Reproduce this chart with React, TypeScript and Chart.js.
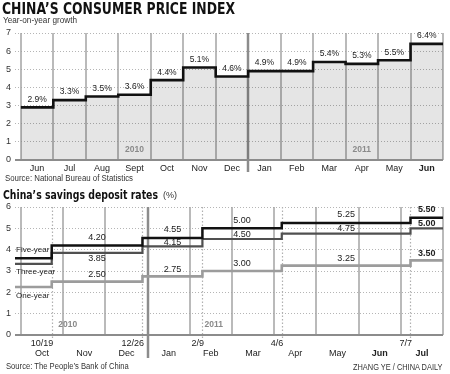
import React, { useEffect, useRef } from "react";
import { Chart, registerables } from "chart.js";
Chart.register(...registerables);

// ---------- CPI data ----------
const cpiMonths = ["Jun", "Jul", "Aug", "Sept", "Oct", "Nov", "Dec", "Jan", "Feb", "Mar", "Apr", "May", "Jun"];
const cpiValues = [2.9, 3.3, 3.5, 3.6, 4.4, 5.1, 4.6, 4.9, 4.9, 5.4, 5.3, 5.5, 6.4];
const cpiYearLabels = ["2010", "2011"];
const cpiYearLabelPos = [3.5, 10.5];
const cpiYearBreak = 7;
const cpiYMax = 7;

// ---------- Deposit rate data ----------
const rateMonths = ["Oct", "Nov", "Dec", "Jan", "Feb", "Mar", "Apr", "May", "Jun", "Jul"];
const rateChangeDates = ["10/19", "12/26", "2/9", "4/6", "7/7"];
const rateChangePos = [0.73, 2.88, 4.3, 6.18, 9.23];
const fiveYearRates = [3.6, 4.2, 4.55, 5.0, 5.25, 5.5];
const threeYearRates = [3.33, 3.85, 4.15, 4.5, 4.75, 5.0];
const oneYearRates = [2.25, 2.5, 2.75, 3.0, 3.25, 3.5];
const rateSeriesNames = ["Five-year", "Three-year", "One-year"];
const rateYearLabels = ["2010", "2011"];
const rateYearLabelPos = [1.11, 4.57];
const rateYearBreak = 3;
const rateYMax = 6;

const FONT = "'Liberation Sans', Arial, sans-serif";
const NARROW = "'Liberation Sans Narrow', 'Liberation Sans', Arial, sans-serif";

let measureCtx: CanvasRenderingContext2D | null = null;
function measure(text: string, font: string) {
  if (!measureCtx) measureCtx = document.createElement("canvas").getContext("2d");
  measureCtx!.font = font;
  return measureCtx!.measureText(text).width;
}

function FitText(props: {
  text: string; left: number; cy: number; size: number; width: number;
  weight?: string; family?: string; color?: string;
}) {
  const { text, left, cy, size, width, weight = "normal", family = FONT, color = "#222" } = props;
  const font = `${weight} ${size}px ${family}`;
  const w = measure(text, font);
  const sx = w > 0 ? width / w : 1;
  const lh = size * 1.2;
  return (
    <div
      style={{
        position: "absolute", left, top: cy - lh / 2 - 0.5, font, lineHeight: `${lh}px`,
        color, whiteSpace: "nowrap", transform: `scaleX(${sx})`, transformOrigin: "left center",
      }}
    >
      {text}
    </div>
  );
}

const CPI_XMIN = -0.18;
const RATE_XMIN = -0.14;

function CpiChart() {
  const ref = useRef<HTMLCanvasElement>(null);
  useEffect(() => {
    const n = cpiMonths.length;
    const data = cpiValues.map((v, i) => ({ x: i, y: v }));
    data.push({ x: n, y: cpiValues[n - 1] });
    const decor = {
      id: "cpiDecor",
      beforeDatasetsDraw(chart: any) {
        const { ctx, chartArea: a, scales } = chart;
        const x = scales.x;
        ctx.save();
        for (let i = 0; i <= n; i++) {
          const px = Math.round(x.getPixelForValue(i));
          const yr = i === cpiYearBreak;
          ctx.strokeStyle = yr ? "#8c8c8c" : "#a3a3a3";
          ctx.lineWidth = yr ? 2.5 : 1.5;
          ctx.beginPath();
          ctx.moveTo(px, a.top);
          ctx.lineTo(px, yr ? a.bottom + 12 : a.bottom);
          ctx.stroke();
        }
        ctx.restore();
      },
      afterDatasetsDraw(chart: any) {
        const { ctx, chartArea: a, scales } = chart;
        const x = scales.x, y = scales.y;
        ctx.save();
        const y0 = y.getPixelForValue(0);
        ctx.strokeStyle = "#8c8c8c";
        ctx.lineWidth = 2;
        ctx.beginPath();
        ctx.moveTo(a.left, y0);
        ctx.lineTo(a.right, y0);
        ctx.stroke();
        ctx.textAlign = "center";
        ctx.textBaseline = "middle";
        ctx.fillStyle = "#222";
        ctx.font = `8.5px ${FONT}`;
        cpiValues.forEach((v, i) => {
          ctx.fillText(v.toFixed(1) + "%", x.getPixelForValue(i + 0.5), y.getPixelForValue(v) - 8);
        });
        ctx.fillStyle = "#8a8a8a";
        ctx.font = `bold 8.5px ${FONT}`;
        cpiYearLabels.forEach((t, i) => {
          ctx.fillText(t, x.getPixelForValue(cpiYearLabelPos[i]), y.getPixelForValue(0.55));
        });
        ctx.restore();
      },
    };
    const chart = new Chart(ref.current!, {
      type: "line",
      data: {
        datasets: [
          {
            data,
            stepped: "before",
            fill: "origin",
            backgroundColor: "rgba(0,0,0,0.1)",
            borderColor: "#111",
            borderWidth: 2.6,
            pointRadius: 0,
            borderJoinStyle: "miter",
          } as any,
        ],
      },
      options: {
        animation: false,
        responsive: false,
        maintainAspectRatio: false,
        devicePixelRatio: 1,
        layout: { padding: { top: 33, right: 7, left: 0, bottom: 0 } },
        plugins: { legend: { display: false }, tooltip: { enabled: false } },
        scales: {
          x: {
            type: "linear",
            min: CPI_XMIN,
            max: n,
            grid: { display: false, drawTicks: false },
            border: { display: false },
            afterBuildTicks: (s: any) => { s.ticks = cpiMonths.map((_, i) => ({ value: i + 0.5 })); },
            afterFit: (s: any) => { s.height = 25; },
            ticks: {
              autoSkip: false,
              maxRotation: 0,
              padding: 3,
              color: "#222",
              callback: (_v: any, i: number) => cpiMonths[i],
              font: (c: any) => ({ family: NARROW, size: 9, weight: c.index === n - 1 ? "bold" : "normal" }),
            },
          },
          y: {
            min: 0,
            max: cpiYMax,
            afterFit: (s: any) => { s.width = 15; },
            grid: { color: "#b5b5b5", lineWidth: 1, drawTicks: false },
            border: { display: false, dash: [1, 2] },
            ticks: { stepSize: 1, padding: 4, color: "#333", font: { family: FONT, size: 9 } },
          },
        },
      } as any,
      plugins: [decor],
    });
    return () => chart.destroy();
  }, []);
  return <canvas ref={ref} width={450} height={185} style={{ position: "absolute", left: 0, top: 0, width: 450, height: 185 }} />;
}

function RateChart() {
  const ref = useRef<HTMLCanvasElement>(null);
  useEffect(() => {
    const n = rateMonths.length;
    const step = (vals: number[]) => [
      { x: RATE_XMIN, y: vals[0] },
      ...rateChangePos.map((p, i) => ({ x: p, y: vals[i + 1] })),
      { x: n, y: vals[vals.length - 1] },
    ];
    const segMid = (k: number) => {
      const s = rateChangePos[k - 1];
      const e = k < rateChangePos.length ? rateChangePos[k] : n;
      return (s + e) / 2;
    };
    const decor = {
      id: "rateDecor",
      beforeDatasetsDraw(chart: any) {
        const { ctx, chartArea: a, scales } = chart;
        const x = scales.x;
        ctx.save();
        for (let i = 0; i <= n; i++) {
          const px = Math.round(x.getPixelForValue(i));
          const yr = i === rateYearBreak;
          ctx.strokeStyle = yr ? "#8c8c8c" : "#a3a3a3";
          ctx.lineWidth = yr ? 2.5 : 1.5;
          ctx.beginPath();
          ctx.moveTo(px, a.top);
          ctx.lineTo(px, yr ? a.bottom + 23 : a.bottom);
          ctx.stroke();
        }
        ctx.strokeStyle = "#b0b0b0";
        ctx.lineWidth = 1.2;
        ctx.setLineDash([1.5, 2]);
        rateChangePos.forEach((p) => {
          const px = Math.round(x.getPixelForValue(p)) + 0.5;
          ctx.beginPath();
          ctx.moveTo(px, a.top);
          ctx.lineTo(px, a.bottom + 4);
          ctx.stroke();
        });
        ctx.restore();
      },
      afterDatasetsDraw(chart: any) {
        const { ctx, chartArea: a, scales } = chart;
        const x = scales.x, y = scales.y;
        ctx.save();
        const y0 = y.getPixelForValue(0);
        ctx.strokeStyle = "#8c8c8c";
        ctx.lineWidth = 2;
        ctx.beginPath();
        ctx.moveTo(a.left, y0);
        ctx.lineTo(a.right, y0);
        ctx.stroke();

        ctx.textBaseline = "middle";
        ctx.fillStyle = "#222";
        // change dates
        ctx.textAlign = "right";
        ctx.font = `9px ${FONT}`;
        rateChangeDates.forEach((t, i) => {
          ctx.fillText(t, x.getPixelForValue(rateChangePos[i]) + 1.5, a.bottom + 8.5);
        });
        // value labels
        ctx.textAlign = "center";
        for (let k = 1; k < fiveYearRates.length; k++) {
          const last = k === fiveYearRates.length - 1;
          ctx.font = `${last ? "bold " : ""}9px ${FONT}`;
          const cx = x.getPixelForValue(segMid(k));
          const p5 = y.getPixelForValue(fiveYearRates[k]);
          const p3 = y.getPixelForValue(threeYearRates[k]);
          const p1 = y.getPixelForValue(oneYearRates[k]);
          ctx.fillText(fiveYearRates[k].toFixed(2), cx, p5 - 8);
          ctx.fillText(threeYearRates[k].toFixed(2), cx, k === 1 ? p3 + 5.5 : (p5 + p3) / 2 + 0.5);
          ctx.fillText(oneYearRates[k].toFixed(2), cx, p1 - 7);
        }
        // series names
        ctx.textAlign = "left";
        ctx.font = `8px ${FONT}`;
        const lx = x.getPixelForValue(RATE_XMIN) + 1;
        ctx.fillText(rateSeriesNames[0], lx, y.getPixelForValue(fiveYearRates[0]) - 8);
        ctx.fillText(rateSeriesNames[1], lx, y.getPixelForValue(threeYearRates[0]) + 8);
        ctx.fillText(rateSeriesNames[2], lx, y.getPixelForValue(oneYearRates[0]) + 8.5);
        // years
        ctx.textAlign = "center";
        ctx.fillStyle = "#8a8a8a";
        ctx.font = `bold 8.5px ${FONT}`;
        rateYearLabels.forEach((t, i) => {
          ctx.fillText(t, x.getPixelForValue(rateYearLabelPos[i]), y.getPixelForValue(0.5));
        });
        ctx.restore();
      },
    };
    const base = { stepped: "before", fill: false, pointRadius: 0, borderJoinStyle: "miter" };
    const chart = new Chart(ref.current!, {
      type: "line",
      data: {
        datasets: [
          { ...base, label: rateSeriesNames[0], data: step(fiveYearRates), borderColor: "#111", borderWidth: 2.5 } as any,
          { ...base, label: rateSeriesNames[1], data: step(threeYearRates), borderColor: "#505050", borderWidth: 2.2 } as any,
          { ...base, label: rateSeriesNames[2], data: step(oneYearRates), borderColor: "#9c9c9c", borderWidth: 2.6 } as any,
        ],
      },
      options: {
        animation: false,
        responsive: false,
        maintainAspectRatio: false,
        devicePixelRatio: 1,
        layout: { padding: { top: 22, right: 7, left: 0, bottom: 0 } },
        plugins: { legend: { display: false }, tooltip: { enabled: false } },
        scales: {
          x: {
            type: "linear",
            min: RATE_XMIN,
            max: n,
            grid: { display: false, drawTicks: false },
            border: { display: false },
            afterBuildTicks: (s: any) => { s.ticks = rateMonths.map((_, i) => ({ value: i + 0.5 })); },
            afterFit: (s: any) => { s.height = 39; },
            ticks: {
              autoSkip: false,
              maxRotation: 0,
              padding: 13,
              color: "#222",
              callback: (_v: any, i: number) => rateMonths[i],
              font: (c: any) => ({ family: NARROW, size: 9, weight: c.index >= n - 2 ? "bold" : "normal" }),
            },
          },
          y: {
            min: 0,
            max: rateYMax,
            afterFit: (s: any) => { s.width = 15; },
            grid: { color: "#b5b5b5", lineWidth: 1, drawTicks: false },
            border: { display: false, dash: [1, 2] },
            ticks: { stepSize: 1, padding: 4, color: "#333", font: { family: FONT, size: 9 } },
          },
        },
      } as any,
      plugins: [decor],
    });
    return () => chart.destroy();
  }, []);
  return <canvas ref={ref} width={450} height={189} style={{ position: "absolute", left: 0, top: 185, width: 450, height: 189 }} />;
}

export default function App() {
  useEffect(() => {
    document.body.style.margin = "0";
  }, []);
  return (
    <div style={{ position: "relative", width: 450, height: 374, background: "#fff", overflow: "hidden" }}>
      <CpiChart />
      <RateChart />
      <FitText text="CHINA’S CONSUMER PRICE INDEX" left={2} cy={9} size={15} width={233} weight="bold" family="'DejaVu Sans', sans-serif" color="#111" />
      <FitText text="Year-on-year growth" left={3} cy={21} size={8.5} width={74} color="#333" />
      <FitText text="Source: National Bureau of Statistics" left={5} cy={179} size={8.5} width={128} color="#333" />
      <FitText text="China’s savings deposit rates" left={3} cy={195} size={13} width={155} weight="bold" family="'DejaVu Sans', sans-serif" color="#111" />
      <FitText text="(%)" left={163} cy={196} size={9} width={14} color="#333" />
      <FitText text="Source: The People’s Bank of China" left={6} cy={367} size={8.5} width={123} color="#333" />
      <FitText text="ZHANG YE / CHINA DAILY" left={353} cy={368} size={8.5} width={90} color="#333" />
    </div>
  );
}
